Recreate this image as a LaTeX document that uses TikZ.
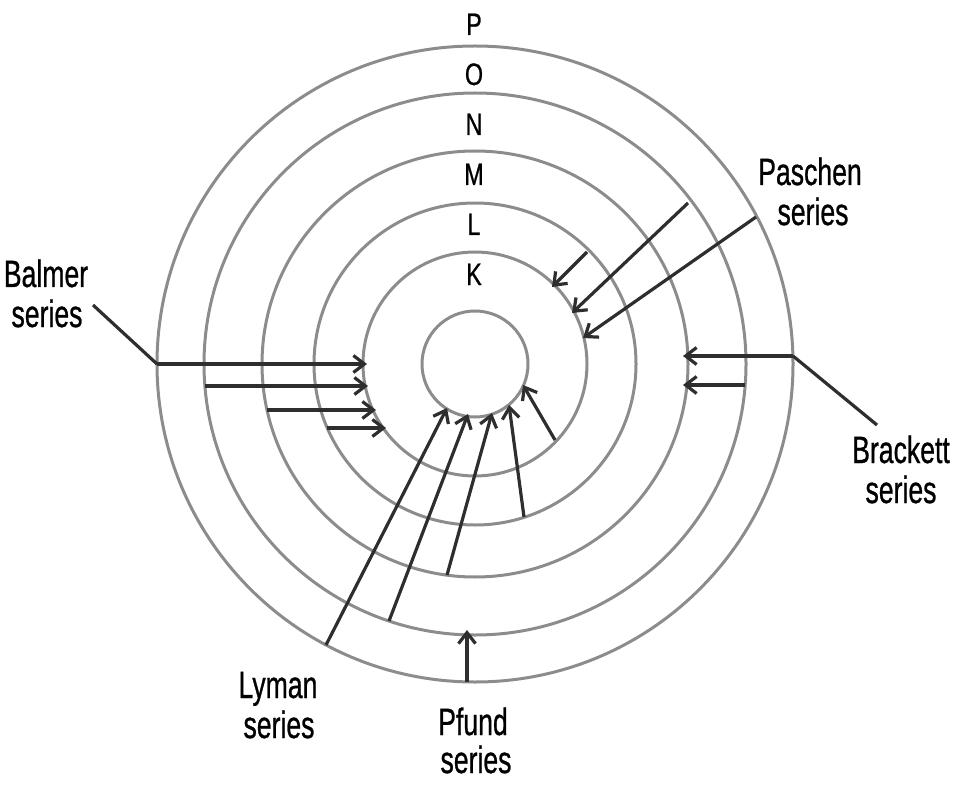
\documentclass[tikz,border=0pt]{standalone}
\usepackage{fontspec}
\setmainfont{Liberation Sans}
\newfontfamily\lblfont{Liberation Sans}[FakeBold=0.9]
\usetikzlibrary{arrows.meta}
\definecolor{orbitgray}{HTML}{8C8C8C}
\definecolor{ink}{HTML}{2E2E2E}
\begin{document}
\begin{tikzpicture}[x=1pt,y=-1pt,
  orbit/.style={draw=orbitgray, line width=3pt},
  trans/.style={draw=ink, line width=3.2pt, -{Straight Barb[length=11pt,width=17pt]}},
  ptr/.style={draw=ink, line width=3.2pt},
  lbl/.style={font=\lblfont\fontsize{38}{40}\selectfont, xscale=0.7, anchor=base, inner sep=0pt},
  shell/.style={font=\lblfont\fontsize{31}{34}\selectfont, xscale=0.75, anchor=base, inner sep=0pt}]
\useasboundingbox (0,0) rectangle (955,786);
\coordinate (C) at (475,364);
% orbits
\foreach \r in {53,112,161,213,271,318}
  \draw[orbit] (C) circle[radius=\r pt];
% shell letters
\node[shell] (sP) at (474,35) {P};
\node[shell] (sO) at (474,85) {O};
\node[shell] (sN) at (474,135) {N};
\node[shell] (sM) at (474,185) {M};
\node[shell] (sL) at (474,235) {L};
\node[shell] (sK) at (474,285) {K};
% series labels
\node[lbl] (balmer1) at (46,287) {Balmer};
\node[lbl] (balmer2) at (47,327) {series};
\node[lbl] (paschen1) at (810,185) {Paschen};
\node[lbl] (paschen2) at (813,225) {series};
\node[lbl] (brackett1) at (901,463) {Brackett};
\node[lbl] (brackett2) at (901,503) {series};
\node[lbl] (lyman1) at (278,698) {Lyman};
\node[lbl] (lyman2) at (279,738) {series};
\node[lbl] (pfund1) at (473,735) {Pfund};
\node[lbl] (pfund2) at (476,773) {series};
% Balmer
\coordinate (ba1s) at (157,364); \coordinate (ba1e) at (367,364);
\coordinate (ba2s) at (205,386); \coordinate (ba2e) at (368,386);
\coordinate (ba3s) at (267,410); \coordinate (ba3e) at (376,410);
\coordinate (ba4s) at (327,428); \coordinate (ba4e) at (386,428);
\coordinate (bap) at (93,305);
\draw[ptr] (bap) -- (ba1s);
\draw[trans] (ba1s) -- (ba1e);
\draw[trans] (ba2s) -- (ba2e);
\draw[trans] (ba3s) -- (ba3e);
\draw[trans] (ba4s) -- (ba4e);
% Brackett
\coordinate (br1s) at (793,356); \coordinate (br1e) at (683,356);
\coordinate (br2s) at (745,385); \coordinate (br2e) at (683,385);
\coordinate (brp) at (877,425);
\draw[ptr] (brp) -- (br1s);
\draw[trans] (br1s) -- (br1e);
\draw[trans] (br2s) -- (br2e);
% Paschen
\coordinate (pa1s) at (587,252); \coordinate (pa1e) at (552,287);
\coordinate (pa2s) at (688,203); \coordinate (pa2e) at (572,313);
\coordinate (pa3s) at (756,217); \coordinate (pa3e) at (583,338);
\draw[trans] (pa1s) -- (pa1e);
\draw[trans] (pa2s) -- (pa2e);
\draw[trans] (pa3s) -- (pa3e);
% Lyman
\coordinate (ly1s) at (326,645); \coordinate (ly1e) at (447,408);
\coordinate (ly2s) at (389,621); \coordinate (ly2e) at (468,414);
\coordinate (ly3s) at (447,575); \coordinate (ly3e) at (492,413);
\coordinate (ly4s) at (524,517); \coordinate (ly4e) at (509,405);
\coordinate (ly5s) at (555,440); \coordinate (ly5e) at (523,385);
\draw[trans] (ly1s) -- (ly1e);
\draw[trans] (ly2s) -- (ly2e);
\draw[trans] (ly3s) -- (ly3e);
\draw[trans] (ly4s) -- (ly4e);
\draw[trans] (ly5s) -- (ly5e);
% Pfund
\coordinate (pfs) at (467,682); \coordinate (pfe) at (467,630);
\draw[trans] (pfs) -- (pfe);
\end{tikzpicture}
\end{document}
